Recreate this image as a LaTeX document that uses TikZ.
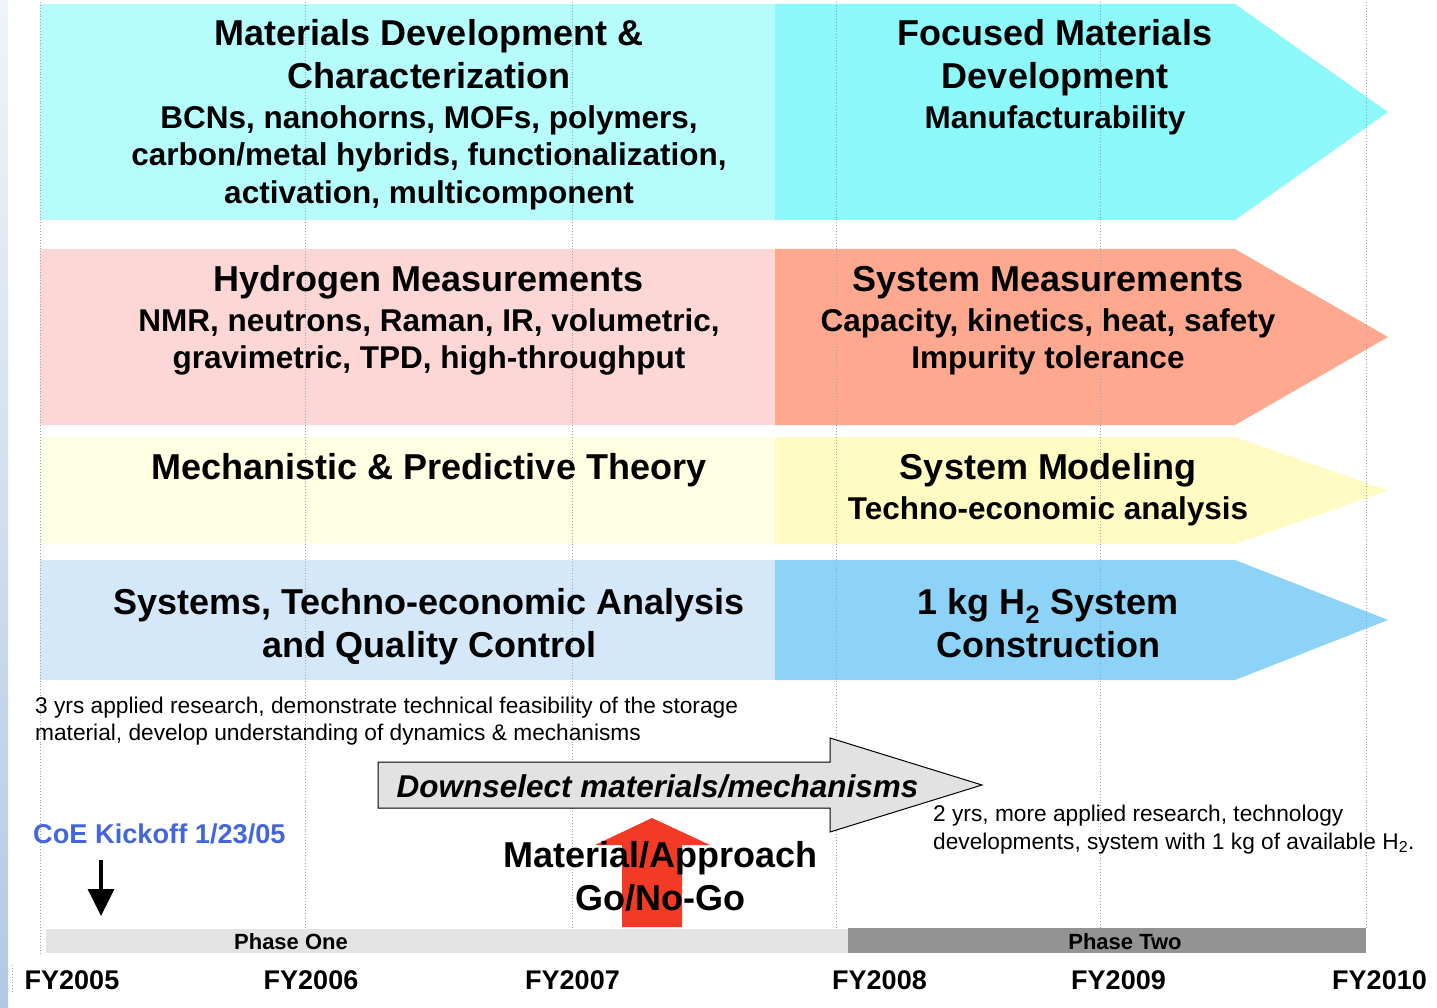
\documentclass[tikz,border=0pt]{standalone}
\usepackage{fontspec}
\setmainfont{Liberation Sans}
\usetikzlibrary{arrows.meta}
\definecolor{cyanL}{HTML}{B7FCFC}
\definecolor{cyanR}{HTML}{8DF8FA}
\definecolor{pinkL}{HTML}{FDD6D6}
\definecolor{pinkR}{HTML}{FDA88F}
\definecolor{yelL}{HTML}{FFFFE4}
\definecolor{yelR}{HTML}{FFFBC2}
\definecolor{bluL}{HTML}{D4E8FA}
\definecolor{bluR}{HTML}{8DD3F8}
\definecolor{gridc}{HTML}{9AA6BE}
\definecolor{phaseA}{HTML}{E3E3E3}
\definecolor{phaseB}{HTML}{939393}
\definecolor{dsfill}{HTML}{E2E2E2}
\definecolor{redarr}{HTML}{F23A24}
\definecolor{kickc}{HTML}{4466DD}
\definecolor{bandtop}{HTML}{F0F4F9}
\definecolor{bandbot}{HTML}{B2C9E3}
\tikzset{
  hd/.style={font=\fontsize{36}{40}\selectfont\bfseries, anchor=base, inner sep=0pt},
  sb/.style={font=\fontsize{31.5}{36}\selectfont\bfseries, anchor=base, inner sep=0pt},
  note/.style={font=\fontsize{22.7}{26}\selectfont, anchor=base west, inner sep=0pt},
  fy/.style={font=\fontsize{27}{30}\selectfont\bfseries, anchor=base, inner sep=0pt},
  ph/.style={font=\fontsize{22}{26}\selectfont\bfseries, anchor=base, inner sep=0pt},
  gridline/.style={draw=gridc, dotted, line width=0.9pt},
}
\begin{document}
\begin{tikzpicture}[x=1pt,y=-1pt]
\useasboundingbox (0,0) rectangle (1437,1008);
\fill[white] (0,0) rectangle (1437,1008);
% left band
\shade[top color=bandtop, bottom color=bandbot] (0,0) rectangle (8,1008);
\draw[gridc, dotted, line width=0.9pt] (12,965) -- (12,992);
% row 1
\fill[cyanL] (40,4) rectangle (775,220);
\fill[cyanR] (775,4) -- (1235,4) -- (1388,112) -- (1235,220) -- (775,220) -- cycle;
% row 2
\fill[pinkL] (40,249) rectangle (775,425);
\fill[pinkR] (775,249) -- (1235,249) -- (1388,337) -- (1235,425) -- (775,425) -- cycle;
% row 3
\fill[yelL] (40,437) rectangle (775,544);
\fill[yelR] (775,437) -- (1235,437) -- (1388,490.5) -- (1235,544) -- (775,544) -- cycle;
% row 4
\fill[bluL] (40,560) rectangle (775,680);
\fill[bluR] (775,560) -- (1235,560) -- (1388,620) -- (1235,680) -- (775,680) -- cycle;
% grid lines
\foreach \gx/\gy in {40/955, 305/930, 572/928, 836/928, 1100/928, 1366/928}
  \draw[gridline] (\gx,2) -- (\gx,\gy);
% timeline bars
\fill[phaseA] (46,929) rectangle (848,953);
\fill[phaseB] (848,928) rectangle (1366,953);
\node[ph] (p1) at (291,949) {Phase One};
\node[ph] (p2) at (1125,949) {Phase Two};
% FY labels
\node[fy] (fy5) at (72,989) {FY2005};
\node[fy] (fy6) at (311,989) {FY2006};
\node[fy] (fy7) at (572.5,989) {FY2007};
\node[fy] (fy8) at (879.5,989) {FY2008};
\node[fy] (fy9) at (1118.5,989) {FY2009};
\node[fy] (fy10) at (1379.5,989) {FY2010};
% downselect arrow
\draw[fill=dsfill, draw=black, line width=1pt] (378,762) -- (830,762) -- (830,738) -- (982,785) -- (830,832) -- (830,808) -- (378,808) -- cycle;
\node[font=\fontsize{31.5}{36}\selectfont\bfseries\itshape, anchor=base, inner sep=0pt] (ds) at (657.5,797) {Downselect materials/mechanisms};
% red go/no-go arrow
\fill[redarr] (622,927) -- (622,845) -- (595,845) -- (652,818) -- (710,845) -- (682,845) -- (682,927) -- cycle;
\node[hd] (ma) at (660.5,867) {Material/Approach};
\node[hd] (gng) at (660,910) {Go/No-Go};
% kickoff
\node[font=\fontsize{27.2}{30}\selectfont\bfseries, text=kickc, anchor=base west, inner sep=0pt] (kick) at (33,843) {CoE Kickoff 1/23/05};
\coordinate (k1) at (101,860);
\coordinate (k2) at (101,916);
\draw[line width=3.5pt, -{Triangle[width=26pt,length=27pt]}] (k1) -- (k2);
% notes
\node[note] (n1) at (35,713) {3 yrs applied research, demonstrate technical feasibility of the storage};
\node[note] (n2) at (35,740) {material, develop understanding of dynamics \& mechanisms};
\node[note] (n3) at (933,821) {2 yrs, more applied research, technology};
\node[note] (n4) at (933,849) {developments, system with 1 kg of available H\textsubscript{2}.};
% row 1 text
\node[hd] (r1a) at (429,46) {Materials Development \&};
\node[hd] (r1b) at (429,89) {Characterization};
\node[sb] (r1c) at (429,129) {BCNs, nanohorns, MOFs, polymers,};
\node[sb] (r1d) at (429,166) {carbon/metal hybrids, functionalization,};
\node[sb] (r1e) at (429,204) {activation, multicomponent};
\node[hd] (r1f) at (1055,46) {Focused Materials};
\node[hd] (r1g) at (1055,89) {Development};
\node[sb] (r1h) at (1055,129) {Manufacturability};
% row 2 text
\node[hd] (r2a) at (429,291) {Hydrogen Measurements};
\node[sb] (r2b) at (429,331) {NMR, neutrons, Raman, IR, volumetric,};
\node[sb] (r2c) at (429,368) {gravimetric, TPD, high-throughput};
\node[hd] (r2d) at (1048,291) {System Measurements};
\node[sb] (r2e) at (1048,331) {Capacity, kinetics, heat, safety};
\node[sb] (r2f) at (1048,368) {Impurity tolerance};
% row 3 text
\node[hd] (r3a) at (429,479) {Mechanistic \& Predictive Theory};
\node[hd] (r3b) at (1048,479) {System Modeling};
\node[sb] (r3c) at (1048,519) {Techno-economic analysis};
% row 4 text
\node[hd] (r4a) at (429,614) {Systems, Techno-economic Analysis};
\node[hd] (r4b) at (429,657) {and Quality Control};
\node[hd] (r4c) at (1048,614) {1 kg H\textsubscript{2} System};
\node[hd] (r4d) at (1048,657) {Construction};
\end{tikzpicture}
\end{document}
